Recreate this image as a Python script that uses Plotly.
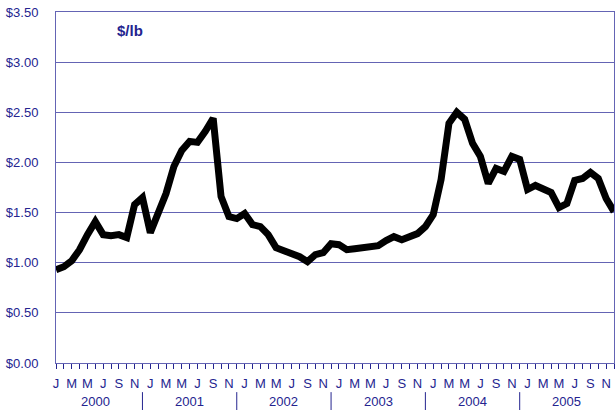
import plotly.graph_objects as go

# monthly price, Jan 2000 - Dec 2005 ($/lb)
years = ["2000", "2001", "2002", "2003", "2004", "2005"]
month_letters = ["J", "F", "M", "A", "M", "J", "J", "A", "S", "O", "N", "D"]
price = [
    0.93, 0.96, 1.02, 1.13, 1.28, 1.41, 1.28, 1.27, 1.28, 1.25, 1.58, 1.65,
    1.30, 1.48, 1.69, 1.96, 2.12, 2.21, 2.20, 2.31, 2.44, 1.66, 1.46, 1.44,
    1.49, 1.38, 1.36, 1.28, 1.15, 1.12, 1.09, 1.06, 1.01, 1.08, 1.10, 1.19,
    1.18, 1.13, 1.14, 1.15, 1.15, 1.17, 1.22, 1.26, 1.23, 1.26, 1.29, 1.36,
    1.48, 1.83, 2.39, 2.50, 2.43, 2.19, 2.06, 1.79, 1.94, 1.91, 2.06, 2.03,
    1.73, 1.77, 1.73, 1.70, 1.55, 1.59, 1.82, 1.84, 1.90, 1.84, 1.64, 1.51,
]

navy = "#24248f"
grid = "#6464b4"
font_family = "Liberation Sans, Arial, sans-serif"

x = list(range(len(price)))
tickvals = [i for i in x if i % 2 == 0]
ticktext = [month_letters[i % 12] for i in tickvals]

fig = go.Figure()
fig.add_trace(go.Scatter(x=x, y=price, mode="lines",
                         line=dict(color="black", width=7),
                         hoverinfo="y"))

# year labels and separators below the month labels
for k, yr in enumerate(years):
    fig.add_annotation(x=k * 12 + 5, y=0, xref="x", yref="paper",
                       yanchor="middle", yshift=-38,
                       text=yr, showarrow=False,
                       font=dict(size=13, color=navy, family=font_family))
    if k > 0:
        fig.add_shape(type="line", xref="x", yref="paper",
                      x0=k * 12 - 1, x1=k * 12 - 1, y0=-0.083, y1=-0.14,
                      line=dict(color=navy, width=1))

fig.add_annotation(x=0.133, y=0.946, xref="paper", yref="paper",
                   text="<b>$/lb</b>", showarrow=False,
                   xanchor="center", yanchor="middle",
                   font=dict(size=15, color=navy, family=font_family))

fig.update_layout(
    width=615, height=410,
    margin=dict(l=56, r=1, t=12, b=47),
    paper_bgcolor="white", plot_bgcolor="white",
    showlegend=False,
    font=dict(family=font_family, size=13, color=navy),
    xaxis=dict(range=[0, 71], tickvals=tickvals, ticktext=ticktext,
               automargin=False,
               ticks="outside", ticklen=5, tickcolor=navy, ticklabelstandoff=3,
               minor=dict(dtick=1, tick0=0, ticks="outside", ticklen=5, tickcolor=navy),
               showgrid=False, zeroline=False,
               showline=True, linecolor=grid, linewidth=1, mirror=True,
               tickfont=dict(size=13, color=navy)),
    yaxis=dict(range=[0, 3.5], dtick=0.5, tickprefix="$", tickformat=".2f",
               automargin=False,
               showgrid=True, gridcolor=grid, gridwidth=1,
               zeroline=False, ticks="", ticklabelstandoff=14,
               showline=True, linecolor=grid, linewidth=1, mirror=True,
               tickfont=dict(size=13, color=navy)),
)

# page body has a default 8px margin; drop it so the figure sits at 0,0
fig.write_html("out.html", config={"displayModeBar": False},
               post_script="document.body.style.margin='0';document.body.style.overflow='hidden';")
